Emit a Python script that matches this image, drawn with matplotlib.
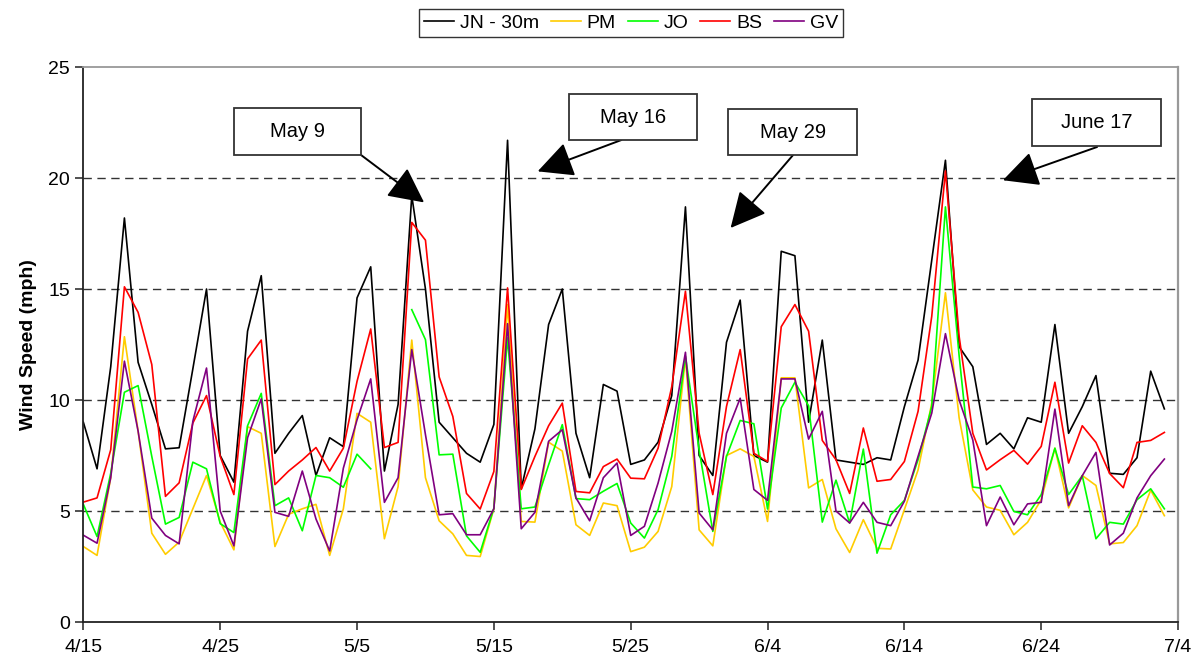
import numpy as np
import matplotlib
matplotlib.use('Agg')
import matplotlib.pyplot as plt
from matplotlib.patches import Rectangle

plt.rcParams['font.family'] = ['Liberation Sans', 'DejaVu Sans']

# daily averages, 4/15 .. 7/3
days = np.arange(80)
tick_days = [0, 10, 20, 30, 40, 50, 60, 70, 80]
tick_labels = ['4/15', '4/25', '5/5', '5/15', '5/25', '6/4', '6/14', '6/24', '7/4']

jn = [9.0, 6.9, 11.5, 18.2, 11.7, 9.8, 7.8, 7.85, 11.4, 15.0,
      7.5, 6.3, 13.1, 15.6, 7.6, 8.5, 9.3, 6.6, 8.3, 7.9,
      14.6, 16.0, 6.8, 9.8, 19.2, 15.0, 9.0, 8.3, 7.6, 7.2,
      8.9, 21.7, 6.0, 8.7, 13.4, 15.0, 8.5, 6.5, 10.7, 10.4,
      7.1, 7.3, 8.1, 10.2, 18.7, 7.5, 6.6, 12.6, 14.5, 7.5,
      7.2, 16.7, 16.5, 9.0, 12.7, 7.3, 7.2, 7.1, 7.4, 7.3,
      9.7, 11.8, 16.3, 20.8, 12.4, 11.5, 8.0, 8.5, 7.8, 9.2,
      9.0, 13.4, 8.5, 9.7, 11.1, 6.7, 6.65, 7.4, 11.3, 9.6]

pm = [3.4, 3.0, 6.5, 12.85, 8.6, 4.0, 3.05, 3.6, 5.1, 6.6,
      4.5, 3.25, 8.8, 8.5, 3.4, 4.85, 5.1, 5.3, 3.0, 5.1,
      9.4, 9.0, 3.75, 6.1, 12.7, 6.5, 4.56, 3.97, 3.0, 2.95,
      5.1, 14.3, 4.53, 4.5, 8.1, 7.7, 4.38, 3.9, 5.36, 5.24,
      3.17, 3.37, 4.08, 6.1, 11.9, 4.15, 3.43, 7.5, 7.8, 7.46,
      4.53, 11.0, 11.0, 6.04, 6.42, 4.2, 3.13, 4.61, 3.32, 3.29,
      5.06, 6.85, 9.86, 14.83, 9.2, 5.95, 5.18, 5.03, 3.93, 4.49,
      5.51, 7.83, 5.14, 6.6, 6.15, 3.52, 3.58, 4.34, 5.94, 4.79]

jo = [5.3, 3.85, 6.7, 10.35, 10.65, 7.46, 4.41, 4.71, 7.2, 6.9,
      4.43, 4.03, 8.84, 10.3, 5.24, 5.59, 4.11, 6.6, 6.5, 6.07,
      7.56, 6.9, np.nan, np.nan, 14.07, 12.72, 7.53, 7.56, 3.88, 3.14,
      5.13, 12.8, 5.1, 5.18, 7.08, 8.89, 5.56, 5.51, 5.89, 6.24,
      4.46, 3.78, 5.06, 7.46, 11.97, 7.76, 4.08, 7.46, 9.08, 8.93,
      5.09, 9.64, 10.8, 9.74, 4.5, 6.39, 4.46, 7.79, 3.1, 4.83,
      5.48, 7.31, 9.71, 18.7, 12.0, 6.08, 6.0, 6.15, 4.98, 4.83,
      5.74, 7.83, 5.74, 6.59, 3.75, 4.49, 4.41, 5.51, 6.0, 5.1]

bs = [5.4, 5.59, 7.76, 15.1, 13.95, 11.6, 5.66, 6.27, 8.96, 10.2,
      7.46, 5.74, 11.85, 12.7, 6.19, 6.8, 7.3, 7.86, 6.8, 7.83,
      10.84, 13.2, 7.86, 8.09, 18.0, 17.2, 11.04, 9.26, 5.79, 5.09,
      6.78, 15.05, 5.97, 7.46, 8.84, 9.86, 5.88, 5.82, 7.0, 7.34,
      6.48, 6.45, 7.83, 10.6, 14.9, 8.5, 5.74, 9.71, 12.27, 7.6,
      7.23, 13.3, 14.3, 13.1, 8.18, 7.31, 5.79, 8.74, 6.34, 6.42,
      7.23, 9.49, 13.77, 20.32, 12.87, 8.5, 6.85, 7.31, 7.73, 7.11,
      7.91, 10.8, 7.16, 8.84, 8.09, 6.69, 6.05, 8.09, 8.18, 8.54]

gv = [3.91, 3.55, 6.5, 11.75, 8.6, 4.68, 3.9, 3.52, 9.04, 11.44,
      5.0, 3.43, 8.3, 10.05, 4.94, 4.76, 6.8, 4.64, 3.2, 6.93,
      9.11, 10.95, 5.39, 6.5, 12.27, 8.44, 4.83, 4.88, 3.93, 3.93,
      5.1, 13.44, 4.2, 4.94, 8.14, 8.66, 5.59, 4.56, 6.5, 7.16,
      3.9, 4.31, 6.26, 8.59, 12.15, 4.91, 4.15, 8.5, 10.08, 5.97,
      5.48, 10.95, 10.95, 8.24, 9.49, 5.0, 4.46, 5.39, 4.49, 4.34,
      5.44, 7.46, 9.41, 12.99, 10.0, 8.2, 4.34, 5.63, 4.38, 5.32,
      5.39, 9.59, 5.24, 6.59, 7.64, 3.47, 4.0, 5.59, 6.59, 7.34]

# callouts: label, box left/bottom/width/height (axes fraction), arrow start (axes fraction), arrow tip (day, mph)
notes = ['May 9', 'May 16', 'May 29', 'June 17']
note_boxes = [(0.1377, 0.8414, 0.116, 0.0847),
              (0.4437, 0.8685, 0.117, 0.0829),
              (0.5889, 0.8414, 0.118, 0.0829),
              (0.8666, 0.8577, 0.118, 0.0847)]
note_start = [(0.2537, 0.8414), (0.4915, 0.8685), (0.6483, 0.8414), (0.9260, 0.8559)]
note_tip = [(24.9, 18.9), (33.2, 20.3), (47.3, 17.75), (67.2, 19.9)]

fig = plt.figure(figsize=(11.96, 6.61), dpi=100)
ax = fig.add_axes([0.0697, 0.059, 0.9153, 0.8396])

ax.plot(days, jn, color='black', lw=1.2, label='JN - 30m')
ax.plot(days, pm, color='#FFCC00', lw=1.2, label='PM')
ax.plot(days, jo, color='#00FF00', lw=1.2, label='JO')
ax.plot(days, bs, color='#FF0000', lw=1.2, label='BS')
ax.plot(days, gv, color='#800080', lw=1.2, label='GV')

ax.set_xlim(0, 80)
ax.set_ylim(0, 25)
ax.set_xticks(tick_days)
ax.set_xticklabels(tick_labels)
ax.set_yticks([0, 5, 10, 15, 20, 25])
ax.tick_params(axis='both', labelsize=14, direction='out', length=6, width=1.2, color='#333333')
ax.tick_params(axis='x', pad=6)
ax.set_ylabel('Wind Speed (mph)', fontsize=14, fontweight='bold', labelpad=8)

for v in [5, 10, 15, 20]:
    ax.axhline(v, color='#333333', lw=1.0, linestyle=(0, (6, 4)), zorder=0)

ax.spines['left'].set_color('#222222')
ax.spines['bottom'].set_color('#222222')
ax.spines['left'].set_linewidth(1.3)
ax.spines['bottom'].set_linewidth(1.3)
ax.spines['top'].set_color('#999999')
ax.spines['right'].set_color('#999999')
ax.spines['top'].set_linewidth(1.3)
ax.spines['right'].set_linewidth(1.6)

for txt, (bx, by, bw, bh), start, tip in zip(notes, note_boxes, note_start, note_tip):
    ax.annotate('', xy=tip, xycoords='data', xytext=start, textcoords='axes fraction',
                arrowprops=dict(arrowstyle='-|>,head_length=1.0,head_width=0.5', mutation_scale=22,
                                color='black', lw=1.4, shrinkA=0, shrinkB=0), zorder=5)
    ax.add_patch(Rectangle((bx, by), bw, bh, transform=ax.transAxes, facecolor='white',
                           edgecolor='#333333', lw=1.3, zorder=6, clip_on=False))
    ax.text(bx + bw / 2, by + bh / 2, txt, transform=ax.transAxes, ha='center', va='center',
            fontsize=14.5, zorder=7)

leg = fig.legend(loc='upper center', bbox_to_anchor=(0.5275, 0.992), ncol=5, fontsize=14,
                 frameon=True, fancybox=False, edgecolor='black', handlelength=1.55,
                 handletextpad=0.3, columnspacing=0.6, borderpad=0.25, borderaxespad=0.2)
leg.get_frame().set_linewidth(1.0)

fig.savefig('out.png', dpi=100)
